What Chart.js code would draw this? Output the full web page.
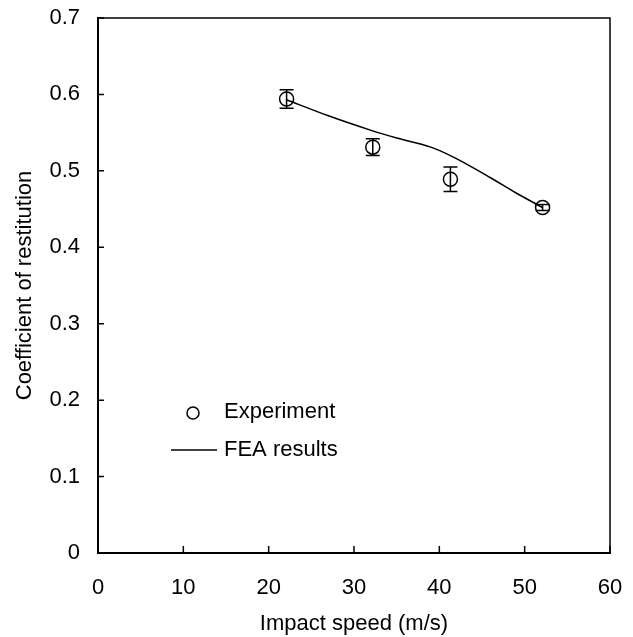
<!DOCTYPE html>
<html><head><meta charset="utf-8">
<script src="https://cdn.jsdelivr.net/npm/chart.js@4/dist/chart.umd.min.js"></script>
<style>html,body{margin:0;padding:0;background:#fff}#wrap{width:633px;height:637px}</style>
</head><body><div id="wrap"><canvas id="c" width="633" height="637"></canvas></div>
<script>
const expSpeed = [22.1, 32.2, 41.3, 52.1];
const expCOR = [0.594, 0.531, 0.489, 0.452];
const expErr = [0.012, 0.011, 0.016, 0.004];
const feaSpeed = [22.1, 27, 32, 35, 39, 42, 46, 49, 52.1];
const feaCOR = [0.593, 0.572, 0.553, 0.543, 0.531, 0.516, 0.491, 0.471, 0.452];
const xTicks = [0, 10, 20, 30, 40, 50, 60];
const yTicks = [0, 0.1, 0.2, 0.3, 0.4, 0.5, 0.6, 0.7];
const legendLabels = ['Experiment', 'FEA results'];

const FONT = 'Liberation Sans, Arial, sans-serif';
const FS = 22;

const decor = {
  id: 'decor',
  afterDatasetsDraw(chart) {
    const ctx = chart.ctx, xs = chart.scales.x, ys = chart.scales.y, a = chart.chartArea;
    ctx.save();
    ctx.strokeStyle = '#000';
    ctx.lineWidth = 1.5;
    ctx.beginPath();
    ctx.moveTo(a.left, a.top); ctx.lineTo(a.right, a.top); ctx.lineTo(a.right, a.bottom);
    ctx.stroke();
    ctx.beginPath();
    yTicks.forEach(v => { const y = ys.getPixelForValue(v); ctx.moveTo(a.left, y); ctx.lineTo(a.left + 6, y); });
    xTicks.forEach(v => { const x = xs.getPixelForValue(v); ctx.moveTo(x, a.bottom); ctx.lineTo(x, a.bottom - 7); });
    ctx.stroke();
    ctx.beginPath();
    expSpeed.forEach((s, i) => {
      const x = xs.getPixelForValue(s);
      const y1 = ys.getPixelForValue(expCOR[i] + expErr[i]);
      const y2 = ys.getPixelForValue(expCOR[i] - expErr[i]);
      ctx.moveTo(x, y1); ctx.lineTo(x, y2);
      ctx.moveTo(x - 7, y1); ctx.lineTo(x + 7, y1);
      ctx.moveTo(x - 7, y2); ctx.lineTo(x + 7, y2);
    });
    ctx.stroke();
    ctx.beginPath();
    ctx.arc(193, 413, 6, 0, Math.PI * 2);
    ctx.stroke();
    ctx.beginPath();
    ctx.moveTo(171, 450); ctx.lineTo(217, 450);
    ctx.stroke();
    ctx.fillStyle = '#000';
    ctx.font = FS + 'px ' + FONT;
    ctx.textBaseline = 'middle';
    ctx.textAlign = 'left';
    ctx.fillText(legendLabels[0], 224, 412);
    ctx.fillText(legendLabels[1], 224, 450);
    ctx.restore();
  }
};

new Chart(document.getElementById('c'), {
  type: 'scatter',
  data: {
    datasets: [
      {
        label: legendLabels[1], type: 'line',
        data: feaSpeed.map((s, i) => ({x: s, y: feaCOR[i]})),
        borderColor: '#000', borderWidth: 1.5, pointRadius: 0, tension: 0.3, fill: false
      },
      {
        label: legendLabels[0],
        data: expSpeed.map((s, i) => ({x: s, y: expCOR[i]})),
        borderColor: '#000', backgroundColor: 'rgba(0,0,0,0)', borderWidth: 1.5,
        pointRadius: 7, pointStyle: 'circle'
      }
    ]
  },
  options: {
    responsive: false, animation: false, devicePixelRatio: 1,
    layout: {padding: {top: 18, right: 23, left: 0, bottom: 0}},
    plugins: {legend: {display: false}, tooltip: {enabled: false}},
    scales: {
      x: {
        type: 'linear', min: 0, max: 60,
        afterBuildTicks: s => { s.ticks = xTicks.map(v => ({value: v})); },
        afterFit: s => { s.height = 84; s.paddingLeft = 0; s.paddingRight = 0; },
        grid: {display: false, drawTicks: false},
        border: {display: true, color: '#000', width: 2},
        ticks: {color: '#000', font: {family: FONT, size: FS}, padding: 22, maxRotation: 0},
        title: {display: true, text: 'Impact speed (m/s)', color: '#000', font: {family: FONT, size: FS}, padding: {top: 0, bottom: 0}}
      },
      y: {
        type: 'linear', min: 0, max: 0.7,
        afterBuildTicks: s => { s.ticks = yTicks.map(v => ({value: v})); },
        afterFit: s => { s.width = 98; s.paddingTop = 0; s.paddingBottom = 0; },
        grid: {display: false, drawTicks: false},
        border: {display: true, color: '#000', width: 2},
        ticks: {color: '#000', font: {family: FONT, size: FS}, padding: 18, callback: v => String(Math.round(v * 10) / 10)},
        title: {display: true, text: 'Coefficient of restitution', color: '#000', font: {family: FONT, size: FS}, padding: {top: 12, bottom: 0}}
      }
    }
  },
  plugins: [decor]
});
</script>
</body></html>
